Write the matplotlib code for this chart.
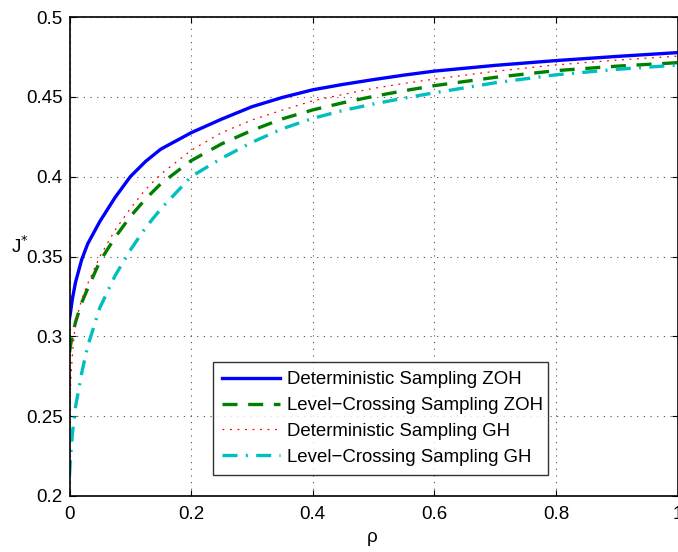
import matplotlib
matplotlib.use("Agg")
import matplotlib.pyplot as plt

rho = [0.0, 0.002, 0.005, 0.01, 0.02, 0.03, 0.05, 0.075, 0.1, 0.125, 0.15, 0.2,
       0.25, 0.3, 0.35, 0.4, 0.45, 0.5, 0.55, 0.6, 0.7, 0.8, 0.9, 1.0]

det_zoh = [0.311, 0.316, 0.324, 0.334, 0.348, 0.358, 0.372, 0.387, 0.400, 0.4095, 0.4172, 0.4275,
           0.436, 0.4438, 0.4496, 0.4544, 0.4578, 0.4608, 0.4636, 0.4661, 0.4697, 0.4727, 0.4753, 0.4777]
lc_zoh = [0.290, 0.295, 0.301, 0.309, 0.321, 0.330, 0.347, 0.362, 0.375, 0.386, 0.3955, 0.410,
          0.4205, 0.4290, 0.4362, 0.4418, 0.4463, 0.4503, 0.4538, 0.4570, 0.4622, 0.4664, 0.4692, 0.4714]
det_gh = [0.250, 0.272, 0.290, 0.309, 0.323, 0.333, 0.350, 0.3666, 0.380, 0.392, 0.4015, 0.4165,
          0.4275, 0.4355, 0.4417, 0.4475, 0.4515, 0.4553, 0.4584, 0.4611, 0.4660, 0.4700, 0.4730, 0.4755]
lc_gh = [0.213, 0.226, 0.240, 0.256, 0.277, 0.294, 0.318, 0.338, 0.354, 0.368, 0.3797, 0.400,
         0.4115, 0.4215, 0.4300, 0.4365, 0.4415, 0.4455, 0.4492, 0.4525, 0.4588, 0.4638, 0.4672, 0.4699]

labels = ["Deterministic Sampling ZOH", "Level\u2212Crossing Sampling ZOH",
          "Deterministic Sampling GH", "Level\u2212Crossing Sampling GH"]

xticks = [0, 0.2, 0.4, 0.6, 0.8, 1]
xticklabels = ["0", "0.2", "0.4", "0.6", "0.8", "1"]
yticks = [0.2, 0.25, 0.3, 0.35, 0.4, 0.45, 0.5]
yticklabels = ["0.2", "0.25", "0.3", "0.35", "0.4", "0.45", "0.5"]

plt.rcParams['font.family'] = ['Liberation Sans', 'DejaVu Sans']

fig = plt.figure(figsize=(6.78, 5.52), dpi=100)
ax = fig.add_axes([69.5/678, 1-496/552, (677.5-69.5)/678, (496-17)/552])

ax.plot(rho, det_zoh, color=(0, 0, 1), lw=2.4, ls='-', label=labels[0])
ax.plot(rho, lc_zoh, color=(0, 0.5, 0), lw=2.4, ls=(0, (4.5, 3.2)), label=labels[1])
ax.plot(rho, det_gh, color=(1, 0, 0), lw=0.9, ls=(0, (1.5, 4.5)), label=labels[2])
ax.plot(rho, lc_gh, color=(0, 0.75, 0.75), lw=2.4, ls=(0, (4.5, 2.5, 0.6, 2.5)), label=labels[3])

ax.set_xlim(0, 1)
ax.set_ylim(0.2, 0.5)
ax.set_xticks(xticks)
ax.set_xticklabels(xticklabels)
ax.set_yticks(yticks)
ax.set_yticklabels(yticklabels)
ax.tick_params(direction='in', length=4, width=0.8, labelsize=13.5, top=True, right=True)
ax.tick_params(axis='x', pad=7)
ax.tick_params(axis='y', pad=5)
ax.grid(True, ls=(0, (1, 5)), color='0.3', lw=0.8)
for s in ax.spines.values():
    s.set_linewidth(1.2)

fig.text(372/678, 1-537/552, "\u03c1", fontsize=13.5, ha='center', va='center')
fig.text(11/678, 1-246/552, "J$^{*}$", fontsize=13.5, ha='left', va='center')

leg = ax.legend(loc='upper left', bbox_to_anchor=((213-69.5)/608, (496-362)/479,
                (548-213)/608, 0.0), mode='expand',
                fontsize=13.4, frameon=True, fancybox=False, edgecolor='black',
                handlelength=3.1, handletextpad=0.38, borderpad=0.5, labelspacing=0.47,
                borderaxespad=0)
leg.get_frame().set_linewidth(1.0)

fig.savefig("out.png", dpi=100)
